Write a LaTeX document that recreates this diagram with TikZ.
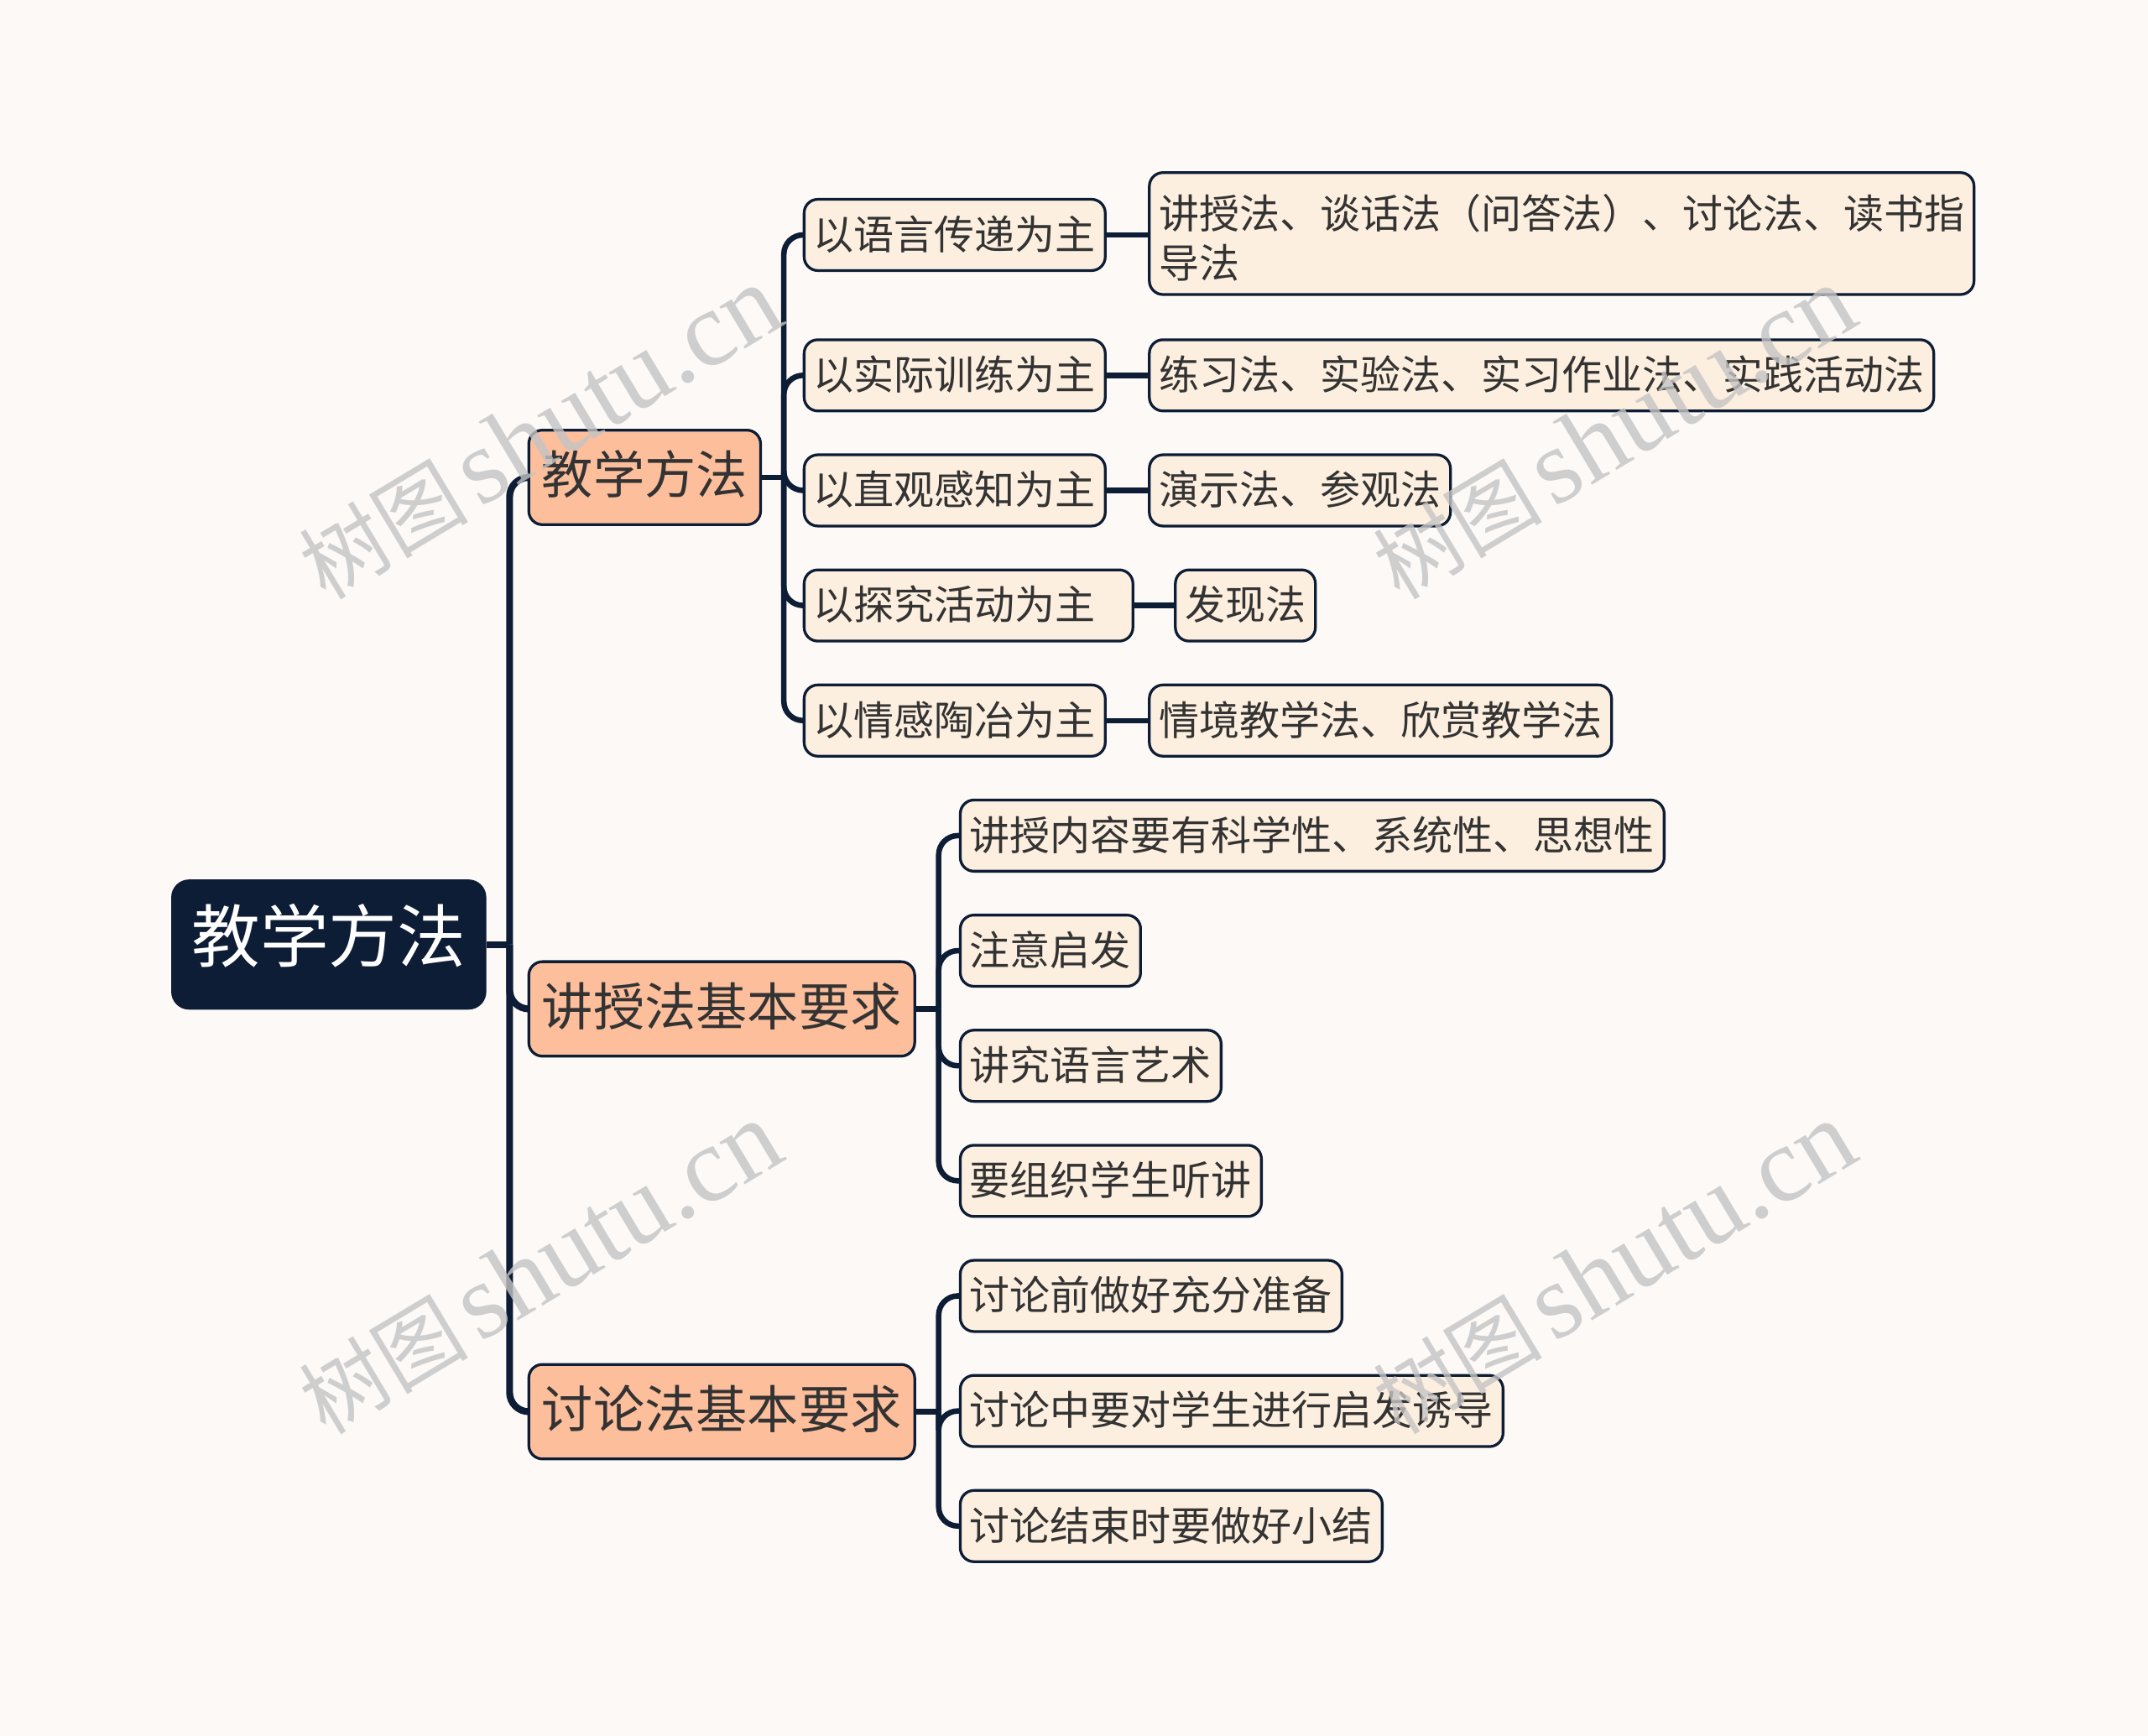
\documentclass[tikz,border=0pt]{standalone}
\usepackage{fontspec}
\setmainfont{Noto Sans CJK SC}
\newfontfamily\wmlat{Liberation Serif}
\usetikzlibrary{calc}
\definecolor{bg}{HTML}{FCF9F7}
\definecolor{navy}{HTML}{0D1D35}
\definecolor{salmon}{HTML}{FDBE9C}
\definecolor{cream}{HTML}{FDEFDF}
\definecolor{txt}{HTML}{333333}
\definecolor{wm}{HTML}{C4C4C4}
\newcommand{\wmtext}{{\fontsize{31pt}{36pt}\selectfont 树图}\hspace{4pt}{\wmlat\fontsize{39pt}{45pt}\selectfont shutu.cn}}
\begin{document}
\begin{tikzpicture}[x=0.5pt,y=-0.5pt,
  base/.style={draw=navy, line width=1pt, rounded corners=5pt, inner xsep=3.5pt, inner ysep=0pt, anchor=west, text=txt, text height=1.06em, text depth=0em},
  rootbox/.style={base, fill=navy, text=white, font=\fontsize{25pt}{30pt}\selectfont, minimum height=46.5pt, inner xsep=7pt, rounded corners=6pt, text height=1.25em},
  lonebox/.style={base, fill=salmon, font=\fontsize{18.75pt}{22pt}\selectfont, minimum height=34.5pt, inner xsep=4.8pt, text height=1.22em},
  ltwobox/.style={base, fill=cream, font=\fontsize{14.7pt}{17.5pt}\selectfont, minimum height=26pt},
  conn/.style={draw=navy, line width=2pt, rounded corners=7pt},
  rconn/.style={conn, line width=2.5pt},
  wmark/.style={text=wm, opacity=0.8, rotate=31, inner sep=0pt},
]
\fill[bg] (0,0) rectangle (1568,1267);
\useasboundingbox (0,0) rectangle (1568,1267);

% root
\node[rootbox] (root) at (125,689.5) {教学方法};

% level 1
\node[lonebox] (la) at (385,348.5) {教学方法};
\node[lonebox] (lb) at (385,736.5) {讲授法基本要求};
\node[lonebox] (lc) at (385,1030.5) {讨论法基本要求};

% level 2 under la
\node[ltwobox] (a1) at (586,171.5) {以语言传递为主};
\node[ltwobox] (a2) at (586,274) {以实际训练为主};
\node[ltwobox] (a3) at (586,358) {以直观感知为主};
\node[ltwobox, text width=113pt, align=left] (a4) at (586,442) {以探究活动为主};
\node[ltwobox] (a5) at (586,526) {以情感陶冶为主};

% level 3
\node[ltwobox, text height=, text depth=, minimum height=44.5pt] (b1) at (838,170.5) {\vbox{\kern3pt\baselineskip=18pt\hbox{讲授法、谈话法（问答法）、讨论法、读书指}\hbox{导法}}};
\node[ltwobox] (b2) at (838,274) {练习法、实验法、实习作业法、实践活动法};
\node[ltwobox] (b3) at (838,358) {演示法、参观法};
\node[ltwobox] (b4) at (857,442) {发现法};
\node[ltwobox] (b5) at (838,526) {情境教学法、欣赏教学法};

% level 2 under lb
\node[ltwobox] (c1) at (700,610) {讲授内容要有科学性、系统性、思想性};
\node[ltwobox] (c2) at (700,694) {注意启发};
\node[ltwobox] (c3) at (700,778) {讲究语言艺术};
\node[ltwobox] (c4) at (700,862) {要组织学生听讲};

% level 2 under lc
\node[ltwobox] (d1) at (700,946) {讨论前做好充分准备};
\node[ltwobox] (d2) at (700,1030) {讨论中要对学生进行启发诱导};
\node[ltwobox] (d3) at (700,1114) {讨论结束时要做好小结};

% junctions
\coordinate (j0) at ([xshift=8.5pt]root.east);
\coordinate (ja) at ([xshift=8pt]la.east);
\coordinate (jb) at ([xshift=8.25pt]lb.east);
\coordinate (jc) at ([xshift=8.25pt]lc.east);

% connectors root
\draw[rconn] (root.east) -- (j0);
\foreach \t in {la,lb,lc} \draw[rconn] (j0) |- (\t.west);

% connectors level 1 -> level 2
\draw[conn] (la.east) -- (ja);
\foreach \t in {a1,a2,a3,a4,a5} \draw[conn] (ja) |- (\t.west);
\draw[conn] (lb.east) -- (jb);
\foreach \t in {c1,c2,c3,c4} \draw[conn] (jb) |- (\t.west);
\draw[conn] (lc.east) -- (jc);
\foreach \t in {d1,d2,d3} \draw[conn] (jc) |- (\t.west);

% level 2 to level 3
\draw[conn] (a1.east) -- (a1.east -| b1.west);
\draw[conn] (a2.east) -- (b2.west);
\draw[conn] (a3.east) -- (b3.west);
\draw[conn] (a4.east) -- (b4.west);
\draw[conn] (a5.east) -- (b5.west);

% watermarks
\node[wmark] (w1) at (394,316) {\wmtext};
\node[wmark] (w2) at (1178,316) {\wmtext};
\node[wmark] (w3) at (394,926) {\wmtext};
\node[wmark] (w4) at (1178,926) {\wmtext};
\end{tikzpicture}
\end{document}
